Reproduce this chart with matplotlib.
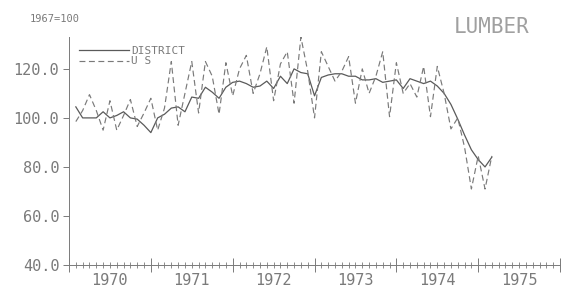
import numpy as np
import matplotlib.pyplot as plt
from matplotlib.transforms import blended_transform_factory

# monthly index, 1967=100 (Feb 1970 .. Mar 1975)
district = [104.5, 100, 100, 100, 102.5, 100, 101, 102.5, 100, 99.5, 97, 94,
            100, 101.5, 104, 104.5, 102.5, 108.5, 108, 112.5, 110.5, 108, 112.5, 114.5,
            115, 114, 112.5, 113, 115, 112, 117, 114, 120, 118.5, 118, 109,
            116.5, 117.5, 118, 118, 117, 117, 115.5, 115.5, 116, 114.5, 115, 115.5,
            112, 116, 115, 114, 115, 113, 110, 105.5, 99.5, 93, 87, 83,
            80, 84]
us = [98.5, 103, 109.5, 103, 95, 107, 95, 101, 107.5, 96.5, 102, 108,
      95, 104, 123, 97, 110, 123, 102, 123, 117, 101.5, 122.5, 109,
      120, 125.5, 110, 118, 129, 107, 122, 127, 106, 133, 119, 100,
      127, 121, 115, 119, 125, 106, 120, 110, 117, 127, 100.5, 122.5,
      110, 114, 108.5, 121, 100.5, 121, 110, 95.5, 100, 88, 71, 84.5,
      71, 84.5]
years = [1970, 1971, 1972, 1973, 1974, 1975]
yticks = [40, 60, 80, 100, 120]

t = 1970 + (np.arange(len(district)) + 1) / 12.0

grey = '#7a7a7a'
mono = 'DejaVu Sans Mono'

fig = plt.figure(figsize=(5.68, 2.89), dpi=100)
ax = fig.add_axes([0.1215, 0.083, 0.8645, 0.789])

ax.plot(t, district, '-', color='#5a5a5a', lw=0.9, label='DISTRICT')
ax.plot(t, us, color='#7a7a7a', lw=0.85, linestyle=(0, (5, 3)), label='U S')

ax.set_xlim(1970, 1976)
ax.set_ylim(40, 133)

for s in ['top', 'right']:
    ax.spines[s].set_visible(False)
for s in ['left', 'bottom']:
    ax.spines[s].set_color(grey)
    ax.spines[s].set_linewidth(0.7)

ax.set_yticks(yticks)
ax.set_yticklabels(['%.1f' % v for v in yticks], fontfamily=mono, fontsize=11, color=grey)
ax.tick_params(axis='y', direction='out', length=4, width=0.7, color=grey, pad=3)

ax.set_xticks(np.arange(1970, 1977))
ax.set_xticklabels([])
ax.set_xticks(np.arange(1970, 1976, 1 / 12.0), minor=True)
ax.tick_params(axis='x', which='major', direction='inout', length=10, width=0.7, color=grey)
ax.tick_params(axis='x', which='minor', direction='inout', length=5, width=0.6, color=grey)

tr = blended_transform_factory(ax.transData, ax.transAxes)
for y in years:
    ax.text(y + 0.5, -0.035, str(y), transform=tr, ha='center', va='top',
            fontfamily=mono, fontsize=11, color=grey)

fig.text(0.053, 0.935, '1967=100', fontfamily=mono, fontsize=7.5, color=grey,
         ha='left', va='center')
fig.text(0.866, 0.905, 'LUMBER', fontfamily=mono, fontsize=15, color='#a0a0a0',
         ha='center', va='center')

leg = ax.legend(loc='upper left', bbox_to_anchor=(0.0, 1.005), frameon=False,
                handlelength=4.5, handletextpad=0.2, labelspacing=0.05,
                prop={'family': mono, 'size': 8})
for txt in leg.get_texts():
    txt.set_color(grey)

fig.savefig('out.png', dpi=100)
